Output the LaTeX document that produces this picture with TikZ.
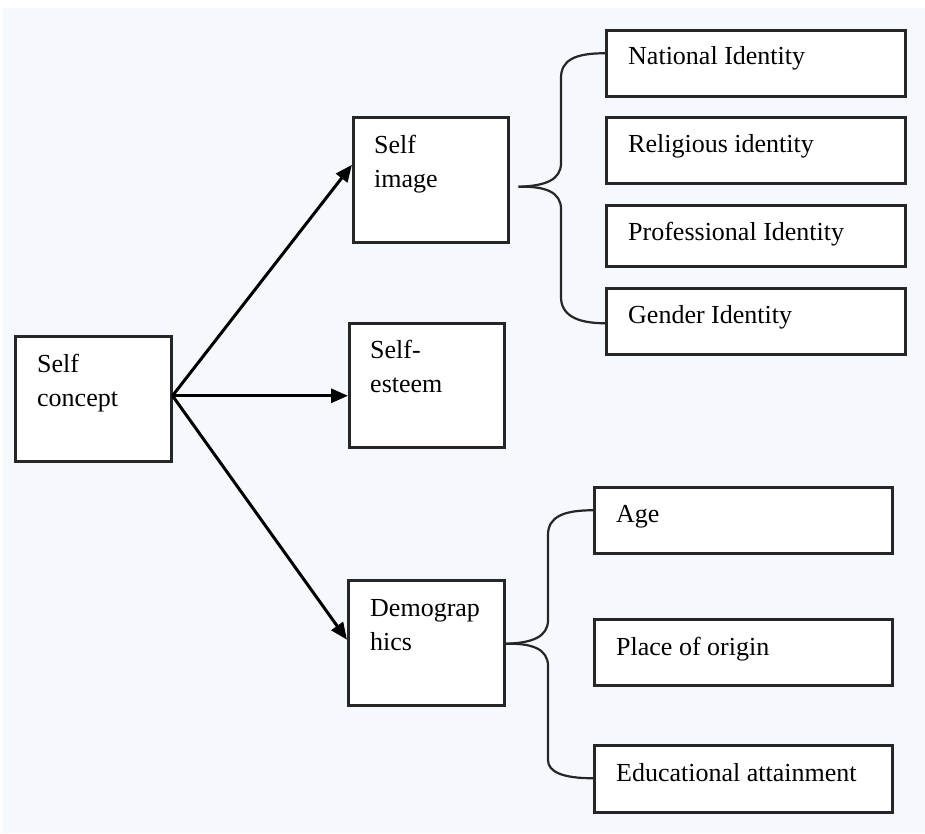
\documentclass[tikz,border=0pt]{standalone}
\usepackage{fontspec}
\setmainfont{Liberation Serif}
\usetikzlibrary{arrows.meta,calc}
\definecolor{pagebg}{RGB}{245,249,253}
\begin{document}
\begin{tikzpicture}[x=1pt,y=-1pt,
  box/.style={draw=black!85,fill=white,line width=2.5pt,inner sep=0pt,anchor=north west},
  lbl/.style={anchor=base west,inner sep=0pt,align=left,font=\fontsize{26}{34}\selectfont},
  arr/.style={line width=3pt,-{Triangle[length=17pt,width=14pt]}},
  brace/.style={line width=2.2pt,black!85}]
\useasboundingbox (0,0) rectangle (925,833);
\fill[white] (0,0) rectangle (925,833);
\fill[pagebg] (3,8) rectangle (925,833);

% main boxes
\node[box,minimum width=156pt,minimum height=125pt] (sc) at (14,335) {};
\node[box,minimum width=155pt,minimum height=125pt] (simg) at (352,116) {};
\node[box,minimum width=155pt,minimum height=124pt] (sest) at (348,322) {};
\node[box,minimum width=156pt,minimum height=125pt] (dem) at (347,579) {};

% identity boxes
\node[box,minimum width=299pt,minimum height=66pt] (nat) at (605,29) {};
\node[box,minimum width=299pt,minimum height=66pt] (rel) at (605,116) {};
\node[box,minimum width=299pt,minimum height=61pt] (pro) at (605,204) {};
\node[box,minimum width=299pt,minimum height=66pt] (gen) at (605,287) {};

% demographic boxes
\node[box,minimum width=298pt,minimum height=66pt] (age) at (593,486) {};
\node[box,minimum width=298pt,minimum height=66pt] (orig) at (593,618) {};
\node[box,minimum width=298pt,minimum height=67pt] (edu) at (593,744) {};

% labels (two-line labels sit on the baseline of their second line)
\node[lbl] (sc-t) at ($(sc.north west)+(23,71)$) {Self\\concept};
\node[lbl] (simg-t) at ($(simg.north west)+(22,71)$) {Self\\image};
\node[lbl] (sest-t) at ($(sest.north west)+(22,70)$) {Self-\\esteem};
\node[lbl] (dem-t) at ($(dem.north west)+(23,71)$) {Demograp\\hics};
\node[lbl] (nat-t) at ($(nat.north west)+(23,35)$) {National Identity};
\node[lbl] (rel-t) at ($(rel.north west)+(23,36)$) {Religious identity};
\node[lbl] (pro-t) at ($(pro.north west)+(23,36)$) {Professional Identity};
\node[lbl] (gen-t) at ($(gen.north west)+(23,36)$) {Gender Identity};
\node[lbl] (age-t) at ($(age.north west)+(23,36)$) {Age};
\node[lbl] (orig-t) at ($(orig.north west)+(23,37)$) {Place of origin};
\node[lbl] (edu-t) at ($(edu.north west)+(23,37)$) {Educational attainment};

% arrows from the concept box
\coordinate (hub) at ($(sc.east)+(0,-3)$);
\draw[arr] (hub) -- ($(simg.west)+(0,-15)$);
\draw[arr] (hub) -- (hub -| sest.west);
\draw[arr] (hub) -- ($(dem.west)+(0,-3)$);

% brace joining self image to the identities
\coordinate (tipA) at ($(simg.east)+(9,7)$);
\coordinate (natE) at ($(nat.west)+(0,-10)$);
\coordinate (genE) at ($(gen.west)+(0,2)$);
\draw[brace] (natE) .. controls ($(natE)+(-30,0)$) and (561,60) .. (561,78)
  -- (561,163) .. controls (561,180) and (545,186) .. (tipA);
\draw[brace] (tipA) .. controls (545,186) and (561,192) .. (561,209)
  -- (561,297) .. controls (561,314) and ($(genE)+(-30,0)$) .. (genE);

% brace joining demographics to its items
\coordinate (tipB) at ($(dem.east)+(0,1)$);
\coordinate (ageE) at ($(age.west)+(0,-10)$);
\coordinate (eduE) at ($(edu.west)+(0,-0.5)$);
\draw[brace] (ageE) .. controls ($(ageE)+(-30,0)$) and (548,517) .. (548,535)
  -- (548,620) .. controls (548,637) and (532,643) .. (tipB);
\draw[brace] (tipB) .. controls (532,643) and (548,649) .. (548,666)
  -- (548,760) .. controls (548,772) and ($(eduE)+(-30,0)$) .. (eduE);
\end{tikzpicture}
\end{document}
